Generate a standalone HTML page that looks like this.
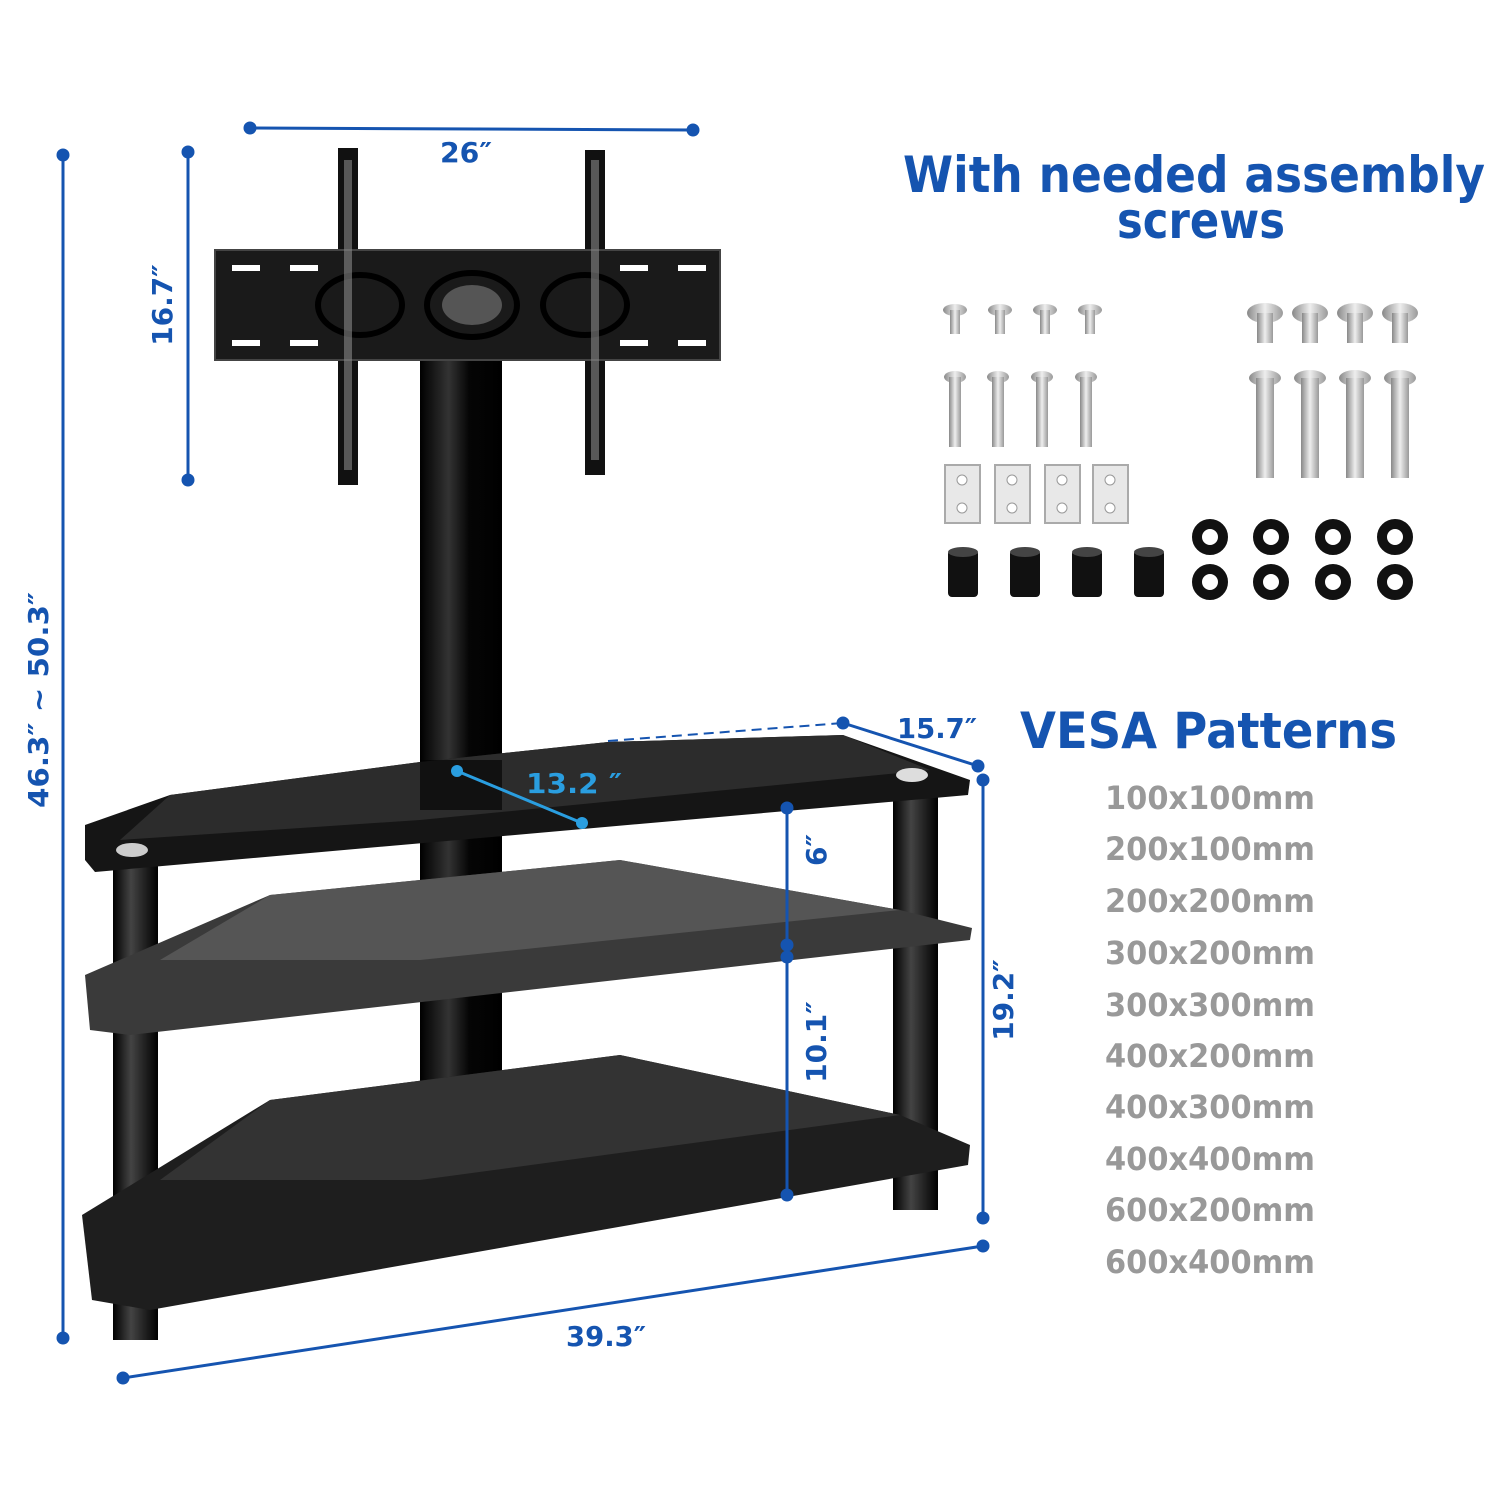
<!DOCTYPE html>
<html><head><meta charset="utf-8"><style>
html,body{margin:0;padding:0;background:#fff;}
svg{display:block}
text{font-family:"DejaVu Sans","Liberation Sans",sans-serif;font-weight:bold}
</style></head><body>
<svg width="1500" height="1500" viewBox="0 0 1500 1500" xmlns="http://www.w3.org/2000/svg">
<defs>
<linearGradient id="pole" x1="0" x2="1"><stop offset="0" stop-color="#000"/><stop offset="0.35" stop-color="#333"/><stop offset="0.6" stop-color="#050505"/><stop offset="1" stop-color="#000"/></linearGradient>
<linearGradient id="leg" x1="0" x2="1"><stop offset="0" stop-color="#000"/><stop offset="0.4" stop-color="#444"/><stop offset="1" stop-color="#000"/></linearGradient>
<linearGradient id="screw" x1="0" x2="1"><stop offset="0" stop-color="#888"/><stop offset="0.5" stop-color="#eee"/><stop offset="1" stop-color="#999"/></linearGradient>
</defs>
<g fill="#1554b0" stroke="#1554b0">
<line x1="250" y1="128" x2="693" y2="130" stroke-width="3"/><circle cx="250" cy="128" r="6"/><circle cx="693" cy="130" r="6"/>
<line x1="188" y1="152" x2="188" y2="480" stroke-width="3"/><circle cx="188" cy="152" r="6"/><circle cx="188" cy="480" r="6"/>
<line x1="63" y1="155" x2="63" y2="1338" stroke-width="3"/><circle cx="63" cy="155" r="6"/><circle cx="63" cy="1338" r="6"/>
<line x1="123" y1="1378" x2="983" y2="1246" stroke-width="3"/><circle cx="123" cy="1378" r="6"/><circle cx="983" cy="1246" r="6"/>
<line x1="983" y1="780" x2="983" y2="1218" stroke-width="3"/><circle cx="983" cy="780" r="6"/><circle cx="983" cy="1218" r="6"/>
<line x1="608" y1="741" x2="843" y2="723" stroke-width="2" stroke-dasharray="10,6"/>
<line x1="843" y1="723" x2="978" y2="766" stroke-width="3"/><circle cx="843" cy="723" r="6"/><circle cx="978" cy="766" r="6"/>
</g>
<rect x="338" y="148" width="20" height="337" fill="#111"/>
<rect x="585" y="150" width="20" height="325" fill="#111"/>
<rect x="420" y="355" width="82" height="745" fill="url(#pole)"/>
<rect x="215" y="250" width="505" height="110" fill="#1a1a1a" stroke="#444" stroke-width="2"/>
<g fill="#fff">
<rect x="232" y="265" width="28" height="6"/><rect x="290" y="265" width="28" height="6"/><rect x="620" y="265" width="28" height="6"/><rect x="678" y="265" width="28" height="6"/>
<rect x="232" y="340" width="28" height="6"/><rect x="290" y="340" width="28" height="6"/><rect x="620" y="340" width="28" height="6"/><rect x="678" y="340" width="28" height="6"/>
</g>
<g fill="none" stroke="#000" stroke-width="6">
<ellipse cx="360" cy="305" rx="42" ry="30"/><ellipse cx="472" cy="305" rx="45" ry="32"/><ellipse cx="585" cy="305" rx="42" ry="30"/>
</g>
<ellipse cx="472" cy="305" rx="30" ry="20" fill="#555"/>
<rect x="344" y="160" width="8" height="310" fill="#888" opacity="0.6"/><rect x="591" y="160" width="8" height="300" fill="#888" opacity="0.6"/>
<rect x="113" y="865" width="45" height="475" fill="url(#leg)"/>
<rect x="893" y="790" width="45" height="420" fill="url(#leg)"/>
<polygon points="82,1215 270,1100 620,1055 900,1115 970,1145 968,1165 150,1310 92,1300" fill="#1e1e1e"/>
<polygon points="270,1100 620,1055 900,1115 420,1180 160,1180" fill="#333"/>
<polygon points="85,975 270,895 620,860 900,910 972,928 970,940 130,1035 90,1030" fill="#3a3a3a"/>
<polygon points="270,895 620,860 900,910 420,960 160,960" fill="#555"/>
<polygon points="85,825 170,795 420,762 608,742 843,735 970,780 968,795 95,872 85,860" fill="#151515"/>
<polygon points="170,795 420,762 608,742 843,735 930,770 420,820 120,840" fill="#2c2c2c"/>
<ellipse cx="132" cy="850" rx="16" ry="7" fill="#ccc"/><ellipse cx="912" cy="775" rx="16" ry="7" fill="#ddd"/>
<rect x="420" y="760" width="82" height="50" fill="#000" opacity="0.6"/>
<g fill="#1554b0" stroke="#1554b0">
<line x1="457" y1="771" x2="582" y2="823" stroke="#2a9ee0" stroke-width="3"/><circle cx="457" cy="771" r="6" fill="#2a9ee0" stroke="none"/><circle cx="582" cy="823" r="6" fill="#2a9ee0" stroke="none"/>
<line x1="787" y1="808" x2="787" y2="945" stroke-width="3"/><circle cx="787" cy="808" r="6"/><circle cx="787" cy="945" r="6"/>
<line x1="787" y1="957" x2="787" y2="1195" stroke-width="3"/><circle cx="787" cy="957" r="6"/><circle cx="787" cy="1195" r="6"/>
</g>
<g fill="#1554b0" font-size="28" lengthAdjust="spacingAndGlyphs">
<text x="440" y="162" textLength="52" lengthAdjust="spacingAndGlyphs">26″</text>
<text x="566" y="1346" textLength="80" lengthAdjust="spacingAndGlyphs">39.3″</text>
<text x="897" y="738" textLength="80" lengthAdjust="spacingAndGlyphs">15.7″</text>
<text x="526" y="793" fill="#2a9ee0" textLength="96" lengthAdjust="spacingAndGlyphs">13.2  ″</text>
<text transform="translate(172,305) rotate(-90)" text-anchor="middle">16.7″</text>
<text transform="translate(48,700) rotate(-90)" x="-108" textLength="216" lengthAdjust="spacingAndGlyphs">46.3″  ~ 50.3″</text>
<text transform="translate(1013,1000) rotate(-90)" text-anchor="middle">19.2″</text>
<text transform="translate(826,850) rotate(-90)" text-anchor="middle">6″</text>
<text transform="translate(826,1042) rotate(-90)" text-anchor="middle">10.1″</text>
</g>
<g fill="#1554b0" font-size="50">
<text x="903" y="192" textLength="582" lengthAdjust="spacingAndGlyphs">With needed assembly</text>
<text x="1117" y="238" textLength="168" lengthAdjust="spacingAndGlyphs">screws</text>
</g>
<text x="1020" y="748" fill="#1554b0" font-size="50" textLength="377" lengthAdjust="spacingAndGlyphs">VESA  Patterns</text>
<g fill="#999" font-size="32">
<text x="1105" y="809" textLength="210" lengthAdjust="spacingAndGlyphs">100x100mm</text>
<text x="1105" y="860" textLength="210" lengthAdjust="spacingAndGlyphs">200x100mm</text>
<text x="1105" y="912" textLength="210" lengthAdjust="spacingAndGlyphs">200x200mm</text>
<text x="1105" y="964" textLength="210" lengthAdjust="spacingAndGlyphs">300x200mm</text>
<text x="1105" y="1016" textLength="210" lengthAdjust="spacingAndGlyphs">300x300mm</text>
<text x="1105" y="1067" textLength="210" lengthAdjust="spacingAndGlyphs">400x200mm</text>
<text x="1105" y="1118" textLength="210" lengthAdjust="spacingAndGlyphs">400x300mm</text>
<text x="1105" y="1170" textLength="210" lengthAdjust="spacingAndGlyphs">400x400mm</text>
<text x="1105" y="1221" textLength="210" lengthAdjust="spacingAndGlyphs">600x200mm</text>
<text x="1105" y="1273" textLength="210" lengthAdjust="spacingAndGlyphs">600x400mm</text>
</g>
<g>
<g id="s1"><ellipse cx="955" cy="310" rx="12" ry="6" fill="url(#screw)"/><rect x="950" y="310" width="10" height="24" fill="url(#screw)"/></g>
<use href="#s1" x="45"/><use href="#s1" x="90"/><use href="#s1" x="135"/>
<g id="s2"><ellipse cx="955" cy="377" rx="11" ry="6" fill="url(#screw)"/><rect x="949" y="377" width="12" height="70" fill="url(#screw)"/></g>
<use href="#s2" x="43"/><use href="#s2" x="87"/><use href="#s2" x="131"/>
<g id="s3"><ellipse cx="1265" cy="313" rx="18" ry="10" fill="url(#screw)"/><rect x="1257" y="313" width="16" height="30" fill="url(#screw)"/></g>
<use href="#s3" x="45"/><use href="#s3" x="90"/><use href="#s3" x="135"/>
<g id="s4"><ellipse cx="1265" cy="378" rx="16" ry="8" fill="url(#screw)"/><rect x="1256" y="378" width="18" height="100" fill="url(#screw)"/></g>
<use href="#s4" x="45"/><use href="#s4" x="90"/><use href="#s4" x="135"/>
<g id="p1"><rect x="945" y="465" width="35" height="58" fill="#e8e8e8" stroke="#aaa" stroke-width="2"/><circle cx="962" cy="480" r="5" fill="#fff" stroke="#999"/><circle cx="962" cy="508" r="5" fill="#fff" stroke="#999"/></g>
<use href="#p1" x="50"/><use href="#p1" x="100"/><use href="#p1" x="148"/>
<g id="k1"><rect x="948" y="550" width="30" height="47" rx="4" fill="#111"/><ellipse cx="963" cy="552" rx="15" ry="5" fill="#444"/></g>
<use href="#k1" x="62"/><use href="#k1" x="124"/><use href="#k1" x="186"/>
<g fill="none" stroke="#111" stroke-width="10">
<circle cx="1210" cy="537" r="13"/><circle cx="1271" cy="537" r="13"/><circle cx="1333" cy="537" r="13"/><circle cx="1395" cy="537" r="13"/>
<circle cx="1210" cy="582" r="13"/><circle cx="1271" cy="582" r="13"/><circle cx="1333" cy="582" r="13"/><circle cx="1395" cy="582" r="13"/>
</g>
</g>
</svg>
</body></html>
